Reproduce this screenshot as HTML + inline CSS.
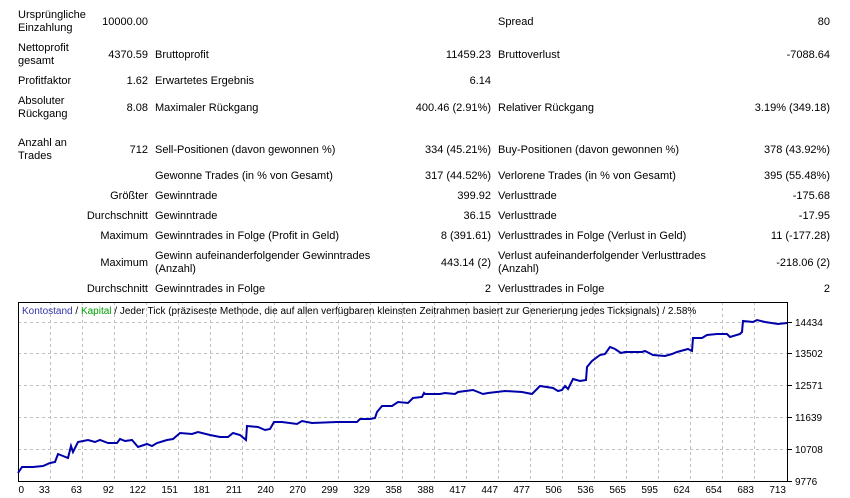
<!DOCTYPE html>
<html><head><meta charset="utf-8"><style>
body{margin:0;width:850px;height:498px;background:#fff;font-family:"Liberation Sans",sans-serif;font-size:11px;color:#000;position:relative;overflow:hidden}
.t{position:absolute;white-space:nowrap;line-height:13px;margin-top:1px}
.r{text-align:right}
</style></head><body>
<div class="t" style="left:18px;top:8px">Ursprüngliche<br>Einzahlung</div>
<div class="t r" style="right:702px;top:15px">10000.00</div>
<div class="t" style="left:498px;top:15px">Spread</div>
<div class="t r" style="right:20px;top:15px">80</div>

<div class="t" style="left:18px;top:41px">Nettoprofit<br>gesamt</div>
<div class="t r" style="right:702px;top:48px">4370.59</div>
<div class="t" style="left:155px;top:48px">Bruttoprofit</div>
<div class="t r" style="right:359px;top:48px">11459.23</div>
<div class="t" style="left:498px;top:48px">Bruttoverlust</div>
<div class="t r" style="right:20px;top:48px">-7088.64</div>

<div class="t" style="left:18px;top:74px">Profitfaktor</div>
<div class="t r" style="right:702px;top:74px">1.62</div>
<div class="t" style="left:155px;top:74px">Erwartetes Ergebnis</div>
<div class="t r" style="right:359px;top:74px">6.14</div>

<div class="t" style="left:18px;top:94px">Absoluter<br>Rückgang</div>
<div class="t r" style="right:702px;top:101px">8.08</div>
<div class="t" style="left:155px;top:101px">Maximaler Rückgang</div>
<div class="t r" style="right:359px;top:101px">400.46 (2.91%)</div>
<div class="t" style="left:498px;top:101px">Relativer Rückgang</div>
<div class="t r" style="right:20px;top:101px">3.19% (349.18)</div>

<div class="t" style="left:18px;top:136px">Anzahl an<br>Trades</div>
<div class="t r" style="right:702px;top:143px">712</div>
<div class="t" style="left:155px;top:143px">Sell-Positionen (davon gewonnen %)</div>
<div class="t r" style="right:359px;top:143px">334 (45.21%)</div>
<div class="t" style="left:498px;top:143px">Buy-Positionen (davon gewonnen %)</div>
<div class="t r" style="right:20px;top:143px">378 (43.92%)</div>

<div class="t" style="left:155px;top:169px">Gewonne Trades (in % von Gesamt)</div>
<div class="t r" style="right:359px;top:169px">317 (44.52%)</div>
<div class="t" style="left:498px;top:169px">Verlorene Trades (in % von Gesamt)</div>
<div class="t r" style="right:20px;top:169px">395 (55.48%)</div>

<div class="t r" style="right:702px;top:189px">Größter</div>
<div class="t" style="left:155px;top:189px">Gewinntrade</div>
<div class="t r" style="right:359px;top:189px">399.92</div>
<div class="t" style="left:498px;top:189px">Verlusttrade</div>
<div class="t r" style="right:20px;top:189px">-175.68</div>

<div class="t r" style="right:702px;top:209px">Durchschnitt</div>
<div class="t" style="left:155px;top:209px">Gewinntrade</div>
<div class="t r" style="right:359px;top:209px">36.15</div>
<div class="t" style="left:498px;top:209px">Verlusttrade</div>
<div class="t r" style="right:20px;top:209px">-17.95</div>

<div class="t r" style="right:702px;top:229px">Maximum</div>
<div class="t" style="left:155px;top:229px">Gewinntrades in Folge (Profit in Geld)</div>
<div class="t r" style="right:359px;top:229px">8 (391.61)</div>
<div class="t" style="left:498px;top:229px">Verlusttrades in Folge (Verlust in Geld)</div>
<div class="t r" style="right:20px;top:229px">11 (-177.28)</div>

<div class="t r" style="right:702px;top:256px">Maximum</div>
<div class="t" style="left:155px;top:249px">Gewinn aufeinanderfolgender Gewinntrades<br>(Anzahl)</div>
<div class="t r" style="right:359px;top:256px">443.14 (2)</div>
<div class="t" style="left:498px;top:249px">Verlust aufeinanderfolgender Verlusttrades<br>(Anzahl)</div>
<div class="t r" style="right:20px;top:256px">-218.06 (2)</div>

<div class="t r" style="right:702px;top:282px">Durchschnitt</div>
<div class="t" style="left:155px;top:282px">Gewinntrades in Folge</div>
<div class="t r" style="right:359px;top:282px">2</div>
<div class="t" style="left:498px;top:282px">Verlusttrades in Folge</div>
<div class="t r" style="right:20px;top:282px">2</div>

<svg width="850" height="498" style="position:absolute;left:0;top:0" font-family="Liberation Sans, sans-serif" font-size="10">
<g stroke="#c0c0c0" stroke-dasharray="3,3" stroke-width="1">
<line x1="18" x2="787" y1="322.5" y2="322.5"/><line x1="18" x2="787" y1="353.5" y2="353.5"/><line x1="18" x2="787" y1="385.5" y2="385.5"/><line x1="18" x2="787" y1="417.5" y2="417.5"/><line x1="18" x2="787" y1="449.5" y2="449.5"/>
<line x1="50.5" x2="50.5" y1="302" y2="481"/><line x1="82.5" x2="82.5" y1="302" y2="481"/><line x1="114.5" x2="114.5" y1="302" y2="481"/><line x1="146.5" x2="146.5" y1="302" y2="481"/><line x1="178.5" x2="178.5" y1="302" y2="481"/><line x1="210.5" x2="210.5" y1="302" y2="481"/><line x1="242.5" x2="242.5" y1="302" y2="481"/><line x1="274.5" x2="274.5" y1="302" y2="481"/><line x1="306.5" x2="306.5" y1="302" y2="481"/><line x1="338.5" x2="338.5" y1="302" y2="481"/><line x1="370.5" x2="370.5" y1="302" y2="481"/><line x1="402.5" x2="402.5" y1="302" y2="481"/><line x1="434.5" x2="434.5" y1="302" y2="481"/><line x1="466.5" x2="466.5" y1="302" y2="481"/><line x1="498.5" x2="498.5" y1="302" y2="481"/><line x1="530.5" x2="530.5" y1="302" y2="481"/><line x1="562.5" x2="562.5" y1="302" y2="481"/><line x1="594.5" x2="594.5" y1="302" y2="481"/><line x1="626.5" x2="626.5" y1="302" y2="481"/><line x1="658.5" x2="658.5" y1="302" y2="481"/><line x1="690.5" x2="690.5" y1="302" y2="481"/><line x1="722.5" x2="722.5" y1="302" y2="481"/><line x1="754.5" x2="754.5" y1="302" y2="481"/>
</g>
<rect x="18.5" y="302.5" width="769" height="179" fill="none" stroke="#000"/>
<g stroke="#000"><line x1="788" x2="792" y1="322.5" y2="322.5"/><line x1="788" x2="792" y1="353.5" y2="353.5"/><line x1="788" x2="792" y1="385.5" y2="385.5"/><line x1="788" x2="792" y1="417.5" y2="417.5"/><line x1="788" x2="792" y1="449.5" y2="449.5"/><line x1="788" x2="792" y1="481.5" y2="481.5"/></g>
<g fill="#000"><text x="795" y="326">14434</text><text x="795" y="357">13502</text><text x="795" y="389">12571</text><text x="795" y="421">11639</text><text x="795" y="453">10708</text><text x="795" y="485">9776</text></g>
<g fill="#000" text-anchor="end">
<text x="24" y="493">0</text><text x="50" y="493">33</text><text x="82" y="493">63</text><text x="114" y="493">92</text><text x="146" y="493">122</text><text x="178" y="493">151</text><text x="210" y="493">181</text><text x="242" y="493">211</text><text x="274" y="493">240</text><text x="306" y="493">270</text><text x="338" y="493">299</text><text x="370" y="493">329</text><text x="402" y="493">358</text><text x="434" y="493">388</text><text x="466" y="493">417</text><text x="498" y="493">447</text><text x="530" y="493">477</text><text x="562" y="493">506</text><text x="594" y="493">536</text><text x="626" y="493">565</text><text x="658" y="493">595</text><text x="690" y="493">624</text><text x="722" y="493">654</text><text x="754" y="493">683</text><text x="786" y="493">713</text>
</g>
<text x="22" y="314"><tspan fill="#3333aa">Kontostand</tspan><tspan fill="#000"> / </tspan><tspan fill="#00a000">Kapital</tspan><tspan fill="#000"> / Jeder Tick (präziseste Methode, die auf allen verfügbaren kleinsten Zeitrahmen basiert zur Generierung jedes Ticksignals) / 2.58%</tspan></text>
<polyline fill="none" stroke="#0000aa" stroke-width="2" stroke-linejoin="miter" points="18,473 22,467 33,467 43,466 50,463 55,462 58,454 63,456 68,458 71,446 73,452 78,442 88,440 95,442 100,440 108,443 117,443 120,439 125,441 132,440 138,447 147,444 152,446 157,443 167,440 173,439 180,433 192,434 198,432 210,435 220,437 228,437 233,433 240,435 246,440 247,426 258,427 265,430 270,429 274,422 282,422 297,424 302,421 312,423 337,422 357,422 360,419 370,419 375,418 377,412 382,406 392,406 398,402 408,403 413,398 422,397 424,393 425,394 440,394 445,393 455,394 458,392 473,390 483,394 488,393 505,391 522,392 532,394 540,386 553,388 558,391 562,390 565,386 568,389 573,379 580,381 586,380 587,367 592,361 600,355 605,354 610,347 615,349 621,353 625,352 642,352 645,351 653,355 665,356 672,354 677,352 688,349 692,351 693,338 702,338 707,335 717,334 727,334 730,337 740,334 742,332 743,321 753,322 757,320 765,322 778,324 787,323"/>
</svg>
</body></html>
